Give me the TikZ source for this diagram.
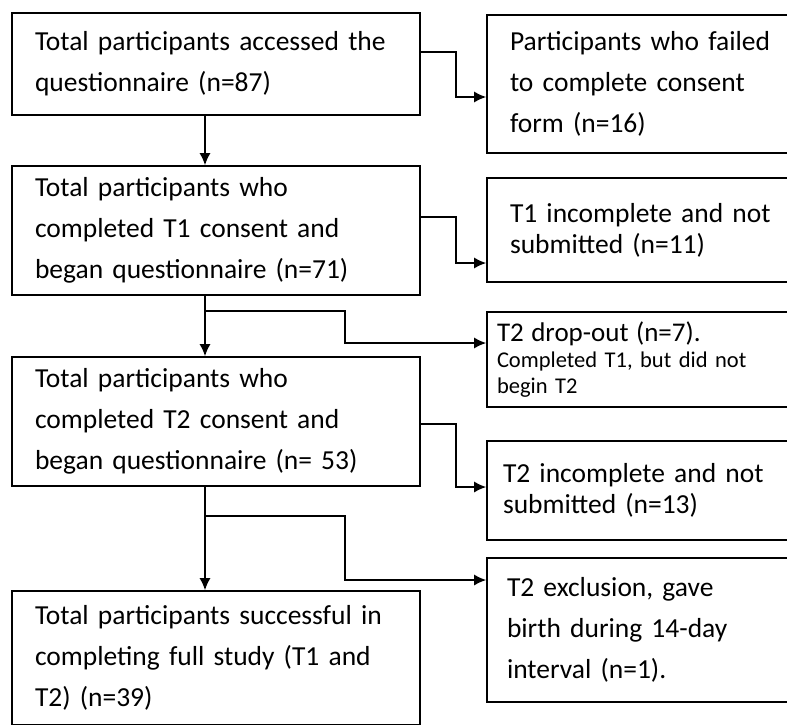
\documentclass[tikz,border=0pt]{standalone}
\usepackage{fontspec}
\setmainfont{Carlito}
\usetikzlibrary{arrows.meta}

\tikzset{
  stagebox/.style={draw, line width=1.6pt, align=left, inner xsep=23pt, inner ysep=0pt,
    font=\fontsize{27.5}{41}\selectfont},
  lossbox/.style={stagebox, text width=267pt, minimum width=313pt},
  flowarrow/.style={line width=1.5pt, -{Latex[length=12pt,width=11pt]}}
}

\begin{document}
\begin{tikzpicture}[x=1pt, y=-1pt]
	%%%%% START %%%%%
	\useasboundingbox (0,0) rectangle (787,724);
	\clip (0,0) rectangle (787,724);
	
	\coordinate (spine) at (205,0);
	
	% main column
	\node[stagebox, text width=362pt, minimum height=102pt] (access) at (216,64)
		{Total participants accessed the\\questionnaire (n=87)};
	\node[stagebox, text width=362pt, minimum height=129pt] (tone) at (216,230.5)
		{Total participants who\\completed T1 consent and\\began questionnaire (n=71)};
	\node[stagebox, text width=362pt, minimum height=129pt] (ttwo) at (216,421.5)
		{Total participants who\\completed T2 consent and\\began questionnaire (n= 53)};
	\node[stagebox, text width=362pt, minimum height=134pt] (full) at (216,658)
		{Total participants successful in\\completing full study (T1 and\\T2) (n=39)};
	
	% losses
	\node[lossbox, minimum height=138pt] (consent) at (643.5,84)
		{Participants who failed\\to complete consent\\form (n=16)};
	\node[lossbox, minimum height=104pt, font=\fontsize{27.5}{31}\selectfont] (tonefail) at (643.5,230)
		{T1 incomplete and not\\submitted (n=11)};
	\node[lossbox, minimum height=95pt, inner xsep=10pt, text width=293pt,
		font=\fontsize{22.5}{26}\selectfont] (dropout) at (643.5,359.5)
		{{\fontsize{27}{26}\selectfont T2 drop-out (n=7).}\\Completed T1, but did not\\begin T2};
	\node[lossbox, minimum height=99pt, inner xsep=16pt, text width=281pt,
		font=\fontsize{27.5}{31}\selectfont] (ttwofail) at (643.5,490.5)
		{T2 incomplete and not\\submitted (n=13)};
	\node[lossbox, minimum height=144pt, inner xsep=20pt, text width=273pt] (birth) at (643.5,630)
		{T2 exclusion, gave\\birth during 14-day\\interval (n=1).};
	
	% connectors
	\draw[flowarrow] (access.south -| spine) -- (tone.north -| spine);
	\draw[flowarrow] ([yshift=12pt]access.east) -- ++(35,0) |- ([yshift=-13pt]consent.west);
	
	\draw[flowarrow] (tone.south -| spine) -- (ttwo.north -| spine);
	\draw[flowarrow] ([yshift=13.5pt]tone.east) -- ++(35,0) |- ([yshift=-33pt]tonefail.west);
	\coordinate (split1) at (205,311);
	\draw[flowarrow] (split1) -- ++(140,0) |- ([yshift=16.5pt]dropout.west);
	
	\draw[flowarrow] (ttwo.south -| spine) -- (full.north -| spine);
	\draw[flowarrow] ([yshift=-2.5pt]ttwo.east) -- ++(35,0) |- ([yshift=3.5pt]ttwofail.west);
	\coordinate (split2) at (205,516);
	\draw[flowarrow] (split2) -- ++(140,0) |- ([yshift=50pt]birth.west);
	%%%%% END %%%%%
\end{tikzpicture}
\end{document}
